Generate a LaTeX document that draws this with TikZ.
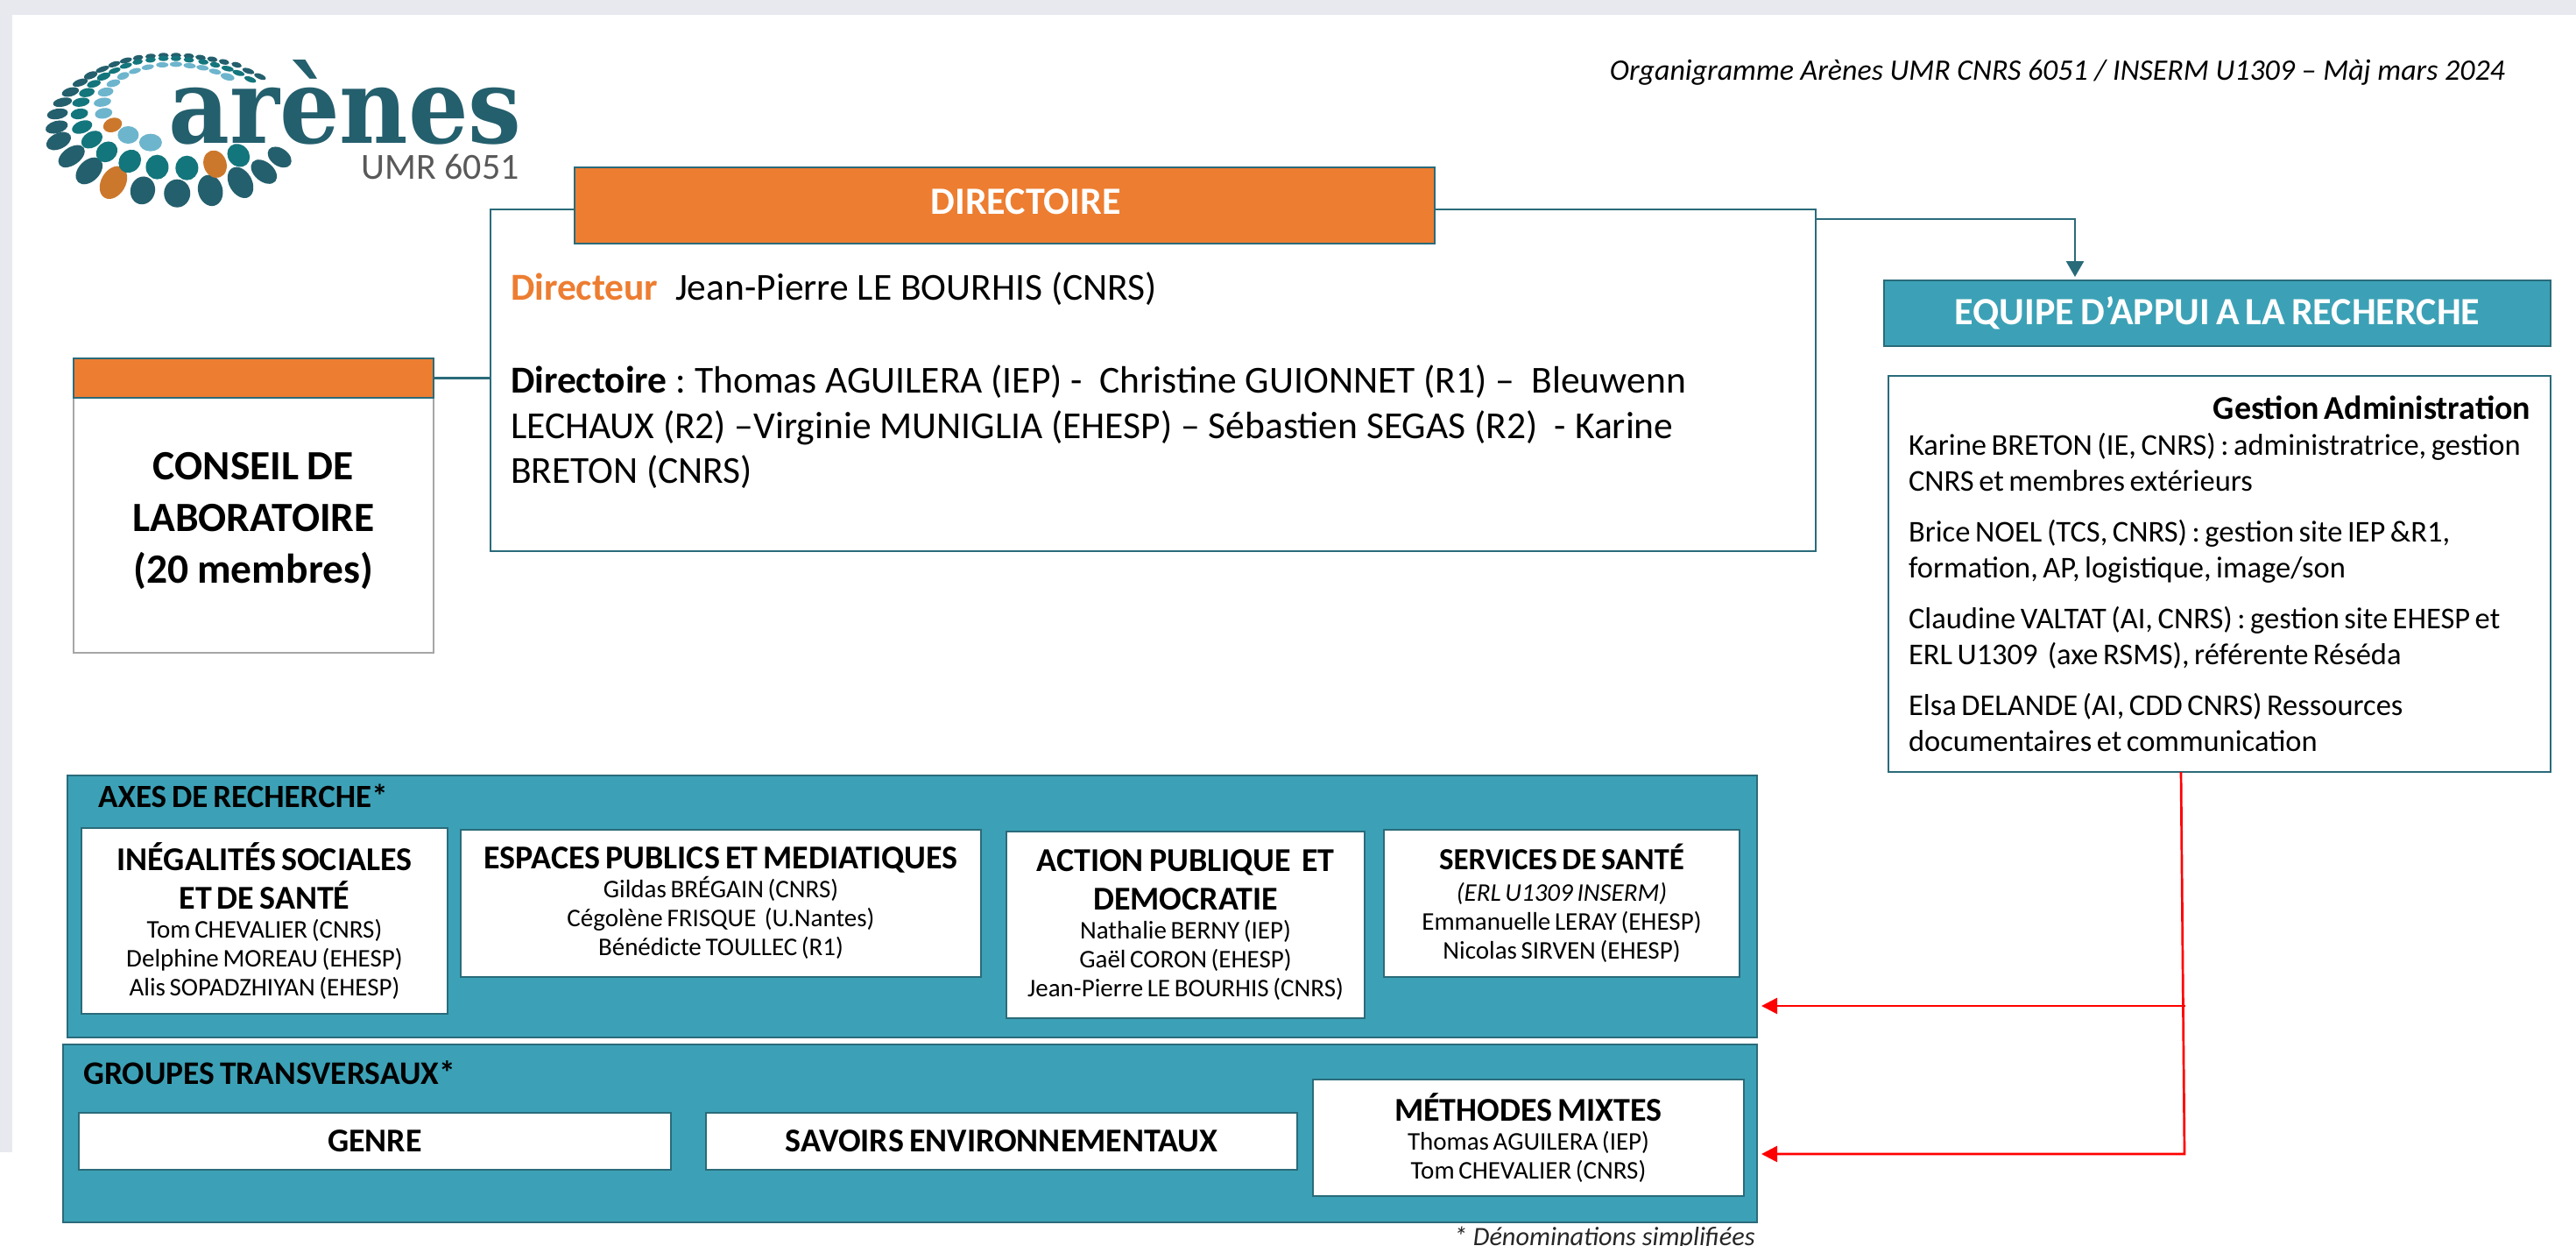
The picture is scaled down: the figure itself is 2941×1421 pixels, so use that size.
\documentclass[tikz,border=0pt]{standalone}
\usepackage{fontspec}
\setmainfont{Carlito}
\newfontfamily\logofont{DejaVu Serif}
\usetikzlibrary{arrows.meta}
\definecolor{tealf}{HTML}{3CA1B6}
\definecolor{teald}{HTML}{2A6B7A}
\definecolor{orangef}{HTML}{ED7D31}
\definecolor{bandgray}{HTML}{E7E9EF}
\definecolor{dkA}{HTML}{245F6D}
\definecolor{dkB}{HTML}{13767C}
\definecolor{dkC}{HTML}{6DB5CD}
\definecolor{dkO}{HTML}{CC782C}
\newcommand{\ws}{\spaceskip=.16em\relax\xspaceskip=.16em\relax}
\newcommand{\hdl}[1]{{\fontsize{38}{44}\selectfont\bfseries\ws #1\par}}
\newcommand{\nml}[1]{{\fontsize{29}{33}\selectfont\ws #1\par}}
\newcommand{\bx}[7][]{%
  \pgfmathsetmacro{\bw}{#5-#3}\pgfmathsetmacro{\bh}{#6-#4}%
  \node[anchor=north west,inner xsep=0pt,inner ysep=0pt,text width=\bw pt,minimum height=\bh pt,align=center,outer sep=0pt,#1] (#2) at (#3,#4) {#7};}
\tikzset{
  whitebox/.style={draw=teald,line width=2.5pt,fill=white,text=black,outer sep=0pt},
  tealbox/.style={draw=teald,line width=2.5pt,fill=tealf,outer sep=0pt},
  orangebox/.style={draw=teald,line width=2.5pt,fill=orangef,text=white},
  tealline/.style={draw=teald,line width=2.5pt},
  redline/.style={draw=red,line width=2.7pt},
  redtip/.style={-{Triangle[length=18pt,width=18pt]},shorten >=5pt},
  bodytext/.style={font=\fontsize{43.5}{51.5}\selectfont}
}
\begin{document}
\begin{tikzpicture}[x=1pt,y=-1pt]
\useasboundingbox (0,0) rectangle (2941,1421);
\fill[white] (0,0) rectangle (2941,1421);
\fill[bandgray] (0,0) rectangle (2941,17);
\fill[bandgray] (0,0) rectangle (14,1315);
% logo
\foreach \x/\y/\a/\b/\r/\c in {
 715/538/15/10/-35/dkA,675/588/17/11/-40/dkA,615/625/19/13/-60/dkA,538/652/18/14/-75/dkA,453/662/16/15/90/dkA,365/652/16/14/75/dkA,290/625/20/14/60/dkO,228/585/18/12/45/dkA,183/535/17/10/35/dkA,150/483/15/9/25/dkA,145/435/13/7/15/dkA,147/390/12/6/10/dkA,160/350/11/5/12/dkA,180/315/10/5/15/dkA,205/283/9/4/18/dkA,232/258/8/4/20/dkA,262/237/8/3/20/dkA,292/220/7/3/18/dkA,322/207/7/3/15/dkA,353/198/6/3/10/dkA,385/193/6/3/5/dkA,418/190/6/3/0/dkA,450/190/6/3/0/dkA,483/192/6/3/-5/dkA,513/197/6/3/-8/dkA,543/203/6/3/-10/dkA,573/212/6/3/-12/dkA,605/222/6/3/-15/dkA,635/243/7/3/-18/dkA,665/262/7/3/-22/dkA,
 610/532/14/12/-50/dkB,550/562/16/13/-70/dkO,478/575/14/13/90/dkB,402/572/14/13/90/dkB,332/552/14/12/50/dkB,273/520/13/11/40/dkB,235/478/13/9/30/dkB,210/435/12/7/20/dkB,203/390/10/6/10/dkB,207/350/10/5/10/dkB,222/317/9/5/12/dkB,240/287/8/4/15/dkB,265/262/8/4/20/dkB,293/242/7/3/18/dkB,322/225/7/3/15/dkB,352/212/6/3/10/dkB,385/205/6/3/5/dkB,418/200/6/3/0/dkB,450/200/6/3/0/dkB,483/205/6/3/-5/dkB,520/212/6/3/-8/dkB,550/222/6/3/-10/dkB,582/235/7/3/-12/dkB,610/250/7/3/-16/dkB,640/272/7/3/-20/dkB,
 385/488/13/10/0/dkC,328/462/12/10/0/dkC,288/428/11/8/20/dkO,265/388/10/6/10/dkC,262/350/10/5/10/dkC,270/315/9/5/10/dkC,290/285/8/4/15/dkC,315/260/7/4/18/dkC,345/243/7/3/15/dkC,378/230/7/3/10/dkC,415/222/7/3/0/dkC,450/220/7/3/0/dkC,485/225/7/3/-5/dkC,518/232/7/3/-8/dkC,550/245/7/3/-12/dkC,582/263/8/4/-15/dkC}{
 \fill[\c,shift={(\x/2.24,\y/3)},rotate=\r] (0,0) ellipse (\a pt and \b pt);
}
\node[anchor=base west,inner sep=0pt,text=dkA,font=\logofont\bfseries\fontsize{108}{108}\selectfont] (logoname) at (192,163) {\scalebox{1}[1.1]{arènes}};
\node[anchor=base east,inner sep=0pt,text=black!65,font=\fontsize{42}{42}\selectfont] (logoumr) at (593,204) {UMR 6051};
% title
\node[anchor=east,inner sep=0pt,font=\itshape\fontsize{33.9}{38}\selectfont] (title) at (2860,83) {Organigramme Arènes UMR CNRS 6051 / INSERM U1309 – Màj mars 2024};
% directoire
\node[anchor=north west,whitebox,text width=1467pt,minimum height=390pt,inner xsep=23pt,inner ysep=0pt,align=left,bodytext] (main) at (560,239) {\spaceskip=.226em\relax\xspaceskip=.226em\relax{\color{orangef}\bfseries Directeur}\ \ Jean-Pierre LE BOURHIS (CNRS)\\[55pt]
{\bfseries Directoire} : Thomas AGUILERA (IEP) -\ \ Christine GUIONNET (R1) –\ \ Bleuwenn\\
LECHAUX (R2) –Virginie MUNIGLIA (EHESP) – Sébastien SEGAS (R2)\ \ - Karine\\
BRETON (CNRS)};
\bx[orangebox,font=\bfseries\fontsize{44}{50}\selectfont]{directoire}{656}{191}{1638}{278}{\hspace*{48pt}\raisebox{9pt}{DIRECTOIRE}}
% conseil
\bx[whitebox,draw=black!35,font=\bfseries\fontsize{47.5}{59}\selectfont]{conseil}{84}{409}{495}{745}{\spaceskip=.2em\relax\rule{0pt}{45pt}\\[-38pt]CONSEIL DE\\LABORATOIRE\\(20 membres)}
\bx[orangebox]{conseilbar}{84}{409}{495}{454}{}
\draw[tealline] (conseilbar.east) -- (main.west |- conseilbar.east);
% equipe
\bx[tealbox,text=white,font=\bfseries\fontsize{44}{46}\selectfont]{equipe}{2151}{320}{2912}{395}{\ws EQUIPE D’APPUI A LA RECHERCHE}
\coordinate (elbowA) at (2369,250);
\draw[tealline,-{Triangle[length=18pt,width=20pt]},shorten >=4pt] (main.east |- elbowA) -- (elbowA) -- (equipe.north -| elbowA);
\node[anchor=north west,whitebox,text width=710pt,minimum height=452pt,inner xsep=23pt,inner ysep=0pt,align=left,font=\fontsize{34.5}{41}\selectfont] (gestion) at (2156,429) {\ws\hyphenpenalty=10000\relax
\hfill{\fontsize{38}{41}\selectfont\bfseries Gestion Administration}\par
Karine BRETON (IE, CNRS) : administratrice, gestion\\CNRS et membres extérieurs\par\vspace{17pt}
Brice NOEL (TCS, CNRS) : gestion site IEP \&R1,\\formation, AP, logistique, image/son\par\vspace{17pt}
Claudine VALTAT (AI, CNRS) : gestion site EHESP et\\ERL U1309\ \ (axe RSMS), référente Réséda\par\vspace{17pt}
Elsa DELANDE (AI, CDD CNRS) Ressources\\documentaires et communication};
% axes
\node[anchor=north west,tealbox,minimum width=1929pt,minimum height=299pt] (axes) at (77,885) {};
\node[anchor=west,inner sep=0pt,font=\bfseries\fontsize{37}{40}\selectfont\ws] (axeslabel) at (112,908) {AXES DE RECHERCHE*};
\bx[whitebox]{inegal}{93}{945}{511}{1157}{\hdl{INÉGALITÉS SOCIALES}\hdl{ET DE SANTÉ}\nml{Tom CHEVALIER (CNRS)}\nml{Delphine MOREAU (EHESP)}\nml{Alis SOPADZHIYAN (EHESP)}}
\bx[whitebox]{espaces}{526}{947}{1120}{1115}{\hdl{ESPACES PUBLICS ET MEDIATIQUES}\nml{Gildas BRÉGAIN (CNRS)}\nml{Cégolène FRISQUE\ \ (U.Nantes)}\nml{Bénédicte TOULLEC (R1)}}
\bx[whitebox]{action}{1149}{949}{1558}{1162}{\hdl{ACTION PUBLIQUE\ \ ET}\hdl{DEMOCRATIE}\nml{Nathalie BERNY (IEP)}\nml{Gaël CORON (EHESP)}\nml{Jean-Pierre LE BOURHIS (CNRS)}}
\bx[whitebox]{services}{1580}{947}{1986}{1115}{{\fontsize{35}{40}\selectfont\bfseries\ws SERVICES DE SANTÉ\par}{\fontsize{29}{36}\selectfont\itshape\ws (ERL U1309 INSERM)\par}\nml{Emmanuelle LERAY (EHESP)}\nml{Nicolas SIRVEN (EHESP)}}
% groupes
\node[anchor=north west,tealbox,minimum width=1934pt,minimum height=203pt] (groupes) at (72,1192) {};
\node[anchor=west,inner sep=0pt,font=\bfseries\fontsize{37.5}{40}\selectfont\ws] (groupeslabel) at (95,1224) {GROUPES TRANSVERSAUX*};
\bx[whitebox]{genre}{90}{1270}{766}{1335}{\hdl{GENRE}}
\bx[whitebox]{savoirs}{806}{1270}{1481}{1335}{\hdl{SAVOIRS ENVIRONNEMENTAUX}}
\bx[whitebox]{methodes}{1499}{1232}{1991}{1365}{\hdl{MÉTHODES MIXTES}\nml{Thomas AGUILERA (IEP)}\nml{Tom CHEVALIER (CNRS)}}
% red
\coordinate (redTop) at (2490,881);
\coordinate (redA) at (2495,1148);
\coordinate (redB) at (2494,1317);
\draw[redline,redtip] (gestion.south -| redTop) -- (redB) -- (groupes.east |- redB);
\draw[redline,redtip] (redA) -- (axes.east |- redA);
\node[anchor=base east,inner sep=0pt,font=\itshape\fontsize{30.3}{34}\selectfont,text=black!85] (note) at (2004,1421) {* Dénominations simplifiées};
\end{tikzpicture}
\end{document}
